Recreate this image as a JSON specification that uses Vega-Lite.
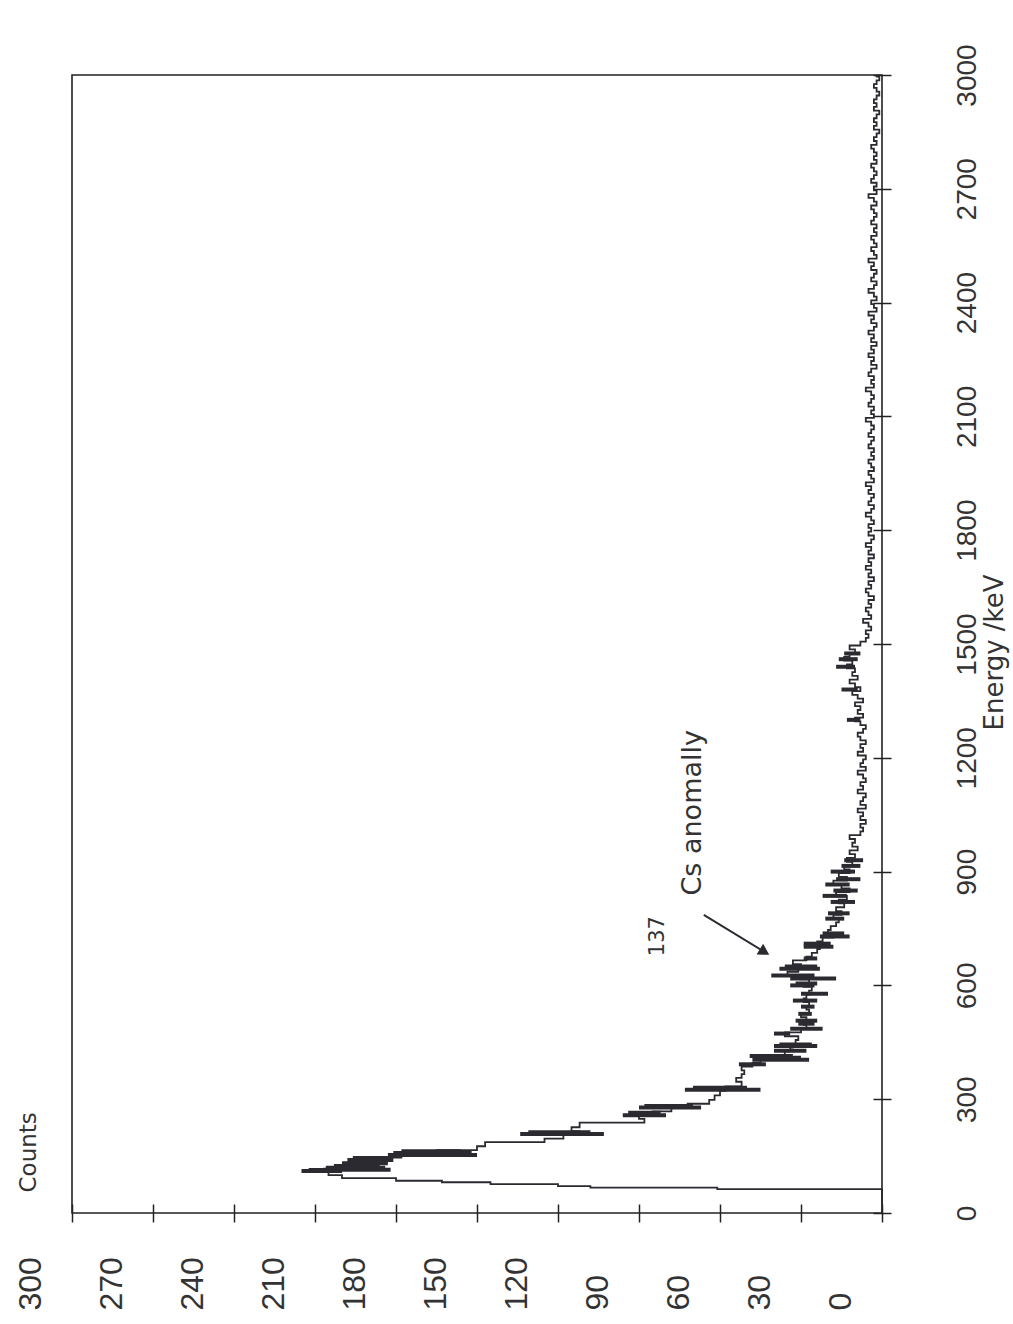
{
  "$schema": "https://vega.github.io/schema/vega-lite/v6.json",
  "width": 810,
  "height": 1138,
  "autosize": {"type": "none"},
  "padding": {"left": 72, "top": 75, "right": 131, "bottom": 111},
  "background": "white",
  "config": {
    "view": {"stroke": "#222222", "strokeWidth": 1.6},
    "font": "Liberation Sans"
  },
  "datasets": {
    "spectrum": [
      {"e":0,"c":0},{"e":63,"c":61},{"e":67,"c":108},{"e":71,"c":120},{"e":76,"c":145},{"e":81,"c":163},{"e":85,"c":180},{"e":92,"c":200},
      {"e":100,"c":205},{"e":108,"c":212},{"e":116,"c":198},{"e":126,"c":192},{"e":136,"c":188},{"e":146,"c":178},{"e":156,"c":165},{"e":166,"c":150},
      {"e":176,"c":147},{"e":187,"c":125},{"e":196,"c":118},{"e":206,"c":112},{"e":216,"c":115},{"e":226,"c":112},{"e":238,"c":88},{"e":248,"c":90},
      {"e":258,"c":85},{"e":268,"c":78},{"e":278,"c":72},{"e":288,"c":64},{"e":298,"c":62},{"e":310,"c":60},{"e":322,"c":58},{"e":334,"c":52},
      {"e":346,"c":54},{"e":356,"c":52},{"e":366,"c":51},{"e":376,"c":52},{"e":386,"c":48},{"e":396,"c":45},{"e":406,"c":40},{"e":416,"c":36},
      {"e":426,"c":34},{"e":436,"c":33},{"e":446,"c":32},{"e":456,"c":31},{"e":466,"c":36},{"e":476,"c":30},{"e":486,"c":28},{"e":496,"c":29},
      {"e":506,"c":28},{"e":516,"c":30},{"e":526,"c":27},{"e":536,"c":28},{"e":546,"c":27},{"e":556,"c":29},{"e":566,"c":28},{"e":576,"c":27},
      {"e":586,"c":26},{"e":596,"c":29},{"e":606,"c":27},{"e":616,"c":30},{"e":626,"c":35},{"e":636,"c":31},{"e":646,"c":30},{"e":656,"c":33},
      {"e":666,"c":28},{"e":676,"c":26},{"e":686,"c":24},{"e":696,"c":23},{"e":706,"c":24},{"e":716,"c":22},{"e":726,"c":18},{"e":736,"c":20},
      {"e":746,"c":19},{"e":756,"c":17},{"e":766,"c":16},{"e":776,"c":18},{"e":786,"c":15},{"e":796,"c":17},{"e":806,"c":14},{"e":816,"c":16},
      {"e":826,"c":13},{"e":836,"c":17},{"e":846,"c":12},{"e":856,"c":15},{"e":866,"c":18},{"e":876,"c":13},{"e":886,"c":16},{"e":896,"c":12},
      {"e":906,"c":14},{"e":916,"c":11},{"e":926,"c":13},{"e":936,"c":10},{"e":946,"c":12},{"e":956,"c":9},{"e":966,"c":11},{"e":976,"c":10},
      {"e":986,"c":12},{"e":996,"c":8},{"e":1006,"c":7},{"e":1016,"c":8},{"e":1026,"c":6},{"e":1036,"c":8},{"e":1046,"c":7},{"e":1056,"c":9},
      {"e":1066,"c":6},{"e":1076,"c":8},{"e":1086,"c":7},{"e":1096,"c":6},{"e":1106,"c":9},{"e":1116,"c":7},{"e":1126,"c":8},{"e":1136,"c":6},
      {"e":1146,"c":7},{"e":1156,"c":9},{"e":1166,"c":6},{"e":1176,"c":8},{"e":1186,"c":7},{"e":1196,"c":6},{"e":1206,"c":9},{"e":1216,"c":7},
      {"e":1226,"c":8},{"e":1236,"c":6},{"e":1246,"c":8},{"e":1256,"c":9},{"e":1266,"c":7},{"e":1276,"c":6},{"e":1286,"c":8},{"e":1296,"c":10},
      {"e":1306,"c":7},{"e":1316,"c":9},{"e":1326,"c":8},{"e":1336,"c":10},{"e":1346,"c":7},{"e":1356,"c":9},{"e":1366,"c":11},{"e":1376,"c":8},
      {"e":1386,"c":10},{"e":1396,"c":12},{"e":1406,"c":9},{"e":1416,"c":11},{"e":1426,"c":10},{"e":1436,"c":13},{"e":1446,"c":11},{"e":1456,"c":14},
      {"e":1466,"c":12},{"e":1476,"c":10},{"e":1486,"c":12},{"e":1496,"c":8},{"e":1506,"c":6},{"e":1516,"c":5},{"e":1526,"c":6},{"e":1536,"c":4},
      {"e":1546,"c":5},{"e":1556,"c":7},{"e":1566,"c":4},{"e":1576,"c":5},{"e":1586,"c":6},{"e":1596,"c":4},{"e":1606,"c":5},{"e":1616,"c":3},
      {"e":1626,"c":5},{"e":1636,"c":6},{"e":1646,"c":4},{"e":1656,"c":5},{"e":1666,"c":3},{"e":1676,"c":5},{"e":1686,"c":4},{"e":1696,"c":6},
      {"e":1706,"c":4},{"e":1716,"c":5},{"e":1726,"c":3},{"e":1736,"c":5},{"e":1746,"c":4},{"e":1756,"c":6},{"e":1766,"c":4},{"e":1776,"c":3},
      {"e":1786,"c":5},{"e":1796,"c":4},{"e":1806,"c":5},{"e":1816,"c":3},{"e":1826,"c":4},{"e":1836,"c":6},{"e":1846,"c":4},{"e":1856,"c":3},
      {"e":1866,"c":5},{"e":1876,"c":4},{"e":1886,"c":3},{"e":1896,"c":5},{"e":1906,"c":4},{"e":1916,"c":6},{"e":1926,"c":3},{"e":1936,"c":4},
      {"e":1946,"c":5},{"e":1956,"c":3},{"e":1966,"c":4},{"e":1976,"c":5},{"e":1986,"c":3},{"e":1996,"c":4},{"e":2006,"c":3},{"e":2016,"c":5},
      {"e":2026,"c":4},{"e":2036,"c":3},{"e":2046,"c":5},{"e":2056,"c":4},{"e":2066,"c":3},{"e":2076,"c":4},{"e":2086,"c":6},{"e":2096,"c":3},
      {"e":2106,"c":4},{"e":2116,"c":3},{"e":2126,"c":5},{"e":2136,"c":4},{"e":2146,"c":3},{"e":2156,"c":4},{"e":2166,"c":6},{"e":2176,"c":3},
      {"e":2186,"c":4},{"e":2196,"c":3},{"e":2206,"c":5},{"e":2216,"c":4},{"e":2226,"c":2},{"e":2236,"c":4},{"e":2246,"c":3},{"e":2256,"c":5},
      {"e":2266,"c":3},{"e":2276,"c":4},{"e":2286,"c":2},{"e":2296,"c":4},{"e":2306,"c":3},{"e":2316,"c":5},{"e":2326,"c":3},{"e":2336,"c":2},
      {"e":2346,"c":4},{"e":2356,"c":3},{"e":2366,"c":5},{"e":2376,"c":2},{"e":2386,"c":3},{"e":2396,"c":4},{"e":2406,"c":2},{"e":2416,"c":3},
      {"e":2426,"c":5},{"e":2436,"c":3},{"e":2446,"c":2},{"e":2456,"c":4},{"e":2466,"c":3},{"e":2476,"c":2},{"e":2486,"c":4},{"e":2496,"c":3},
      {"e":2506,"c":5},{"e":2516,"c":2},{"e":2526,"c":3},{"e":2536,"c":4},{"e":2546,"c":2},{"e":2556,"c":3},{"e":2566,"c":4},{"e":2576,"c":2},
      {"e":2586,"c":3},{"e":2596,"c":2},{"e":2606,"c":4},{"e":2616,"c":3},{"e":2626,"c":2},{"e":2636,"c":3},{"e":2646,"c":4},{"e":2656,"c":2},
      {"e":2666,"c":3},{"e":2676,"c":5},{"e":2686,"c":2},{"e":2696,"c":3},{"e":2706,"c":2},{"e":2716,"c":4},{"e":2726,"c":3},{"e":2736,"c":2},
      {"e":2746,"c":3},{"e":2756,"c":4},{"e":2766,"c":2},{"e":2776,"c":3},{"e":2786,"c":2},{"e":2796,"c":3},{"e":2806,"c":4},{"e":2816,"c":2},
      {"e":2826,"c":3},{"e":2836,"c":2},{"e":2846,"c":1},{"e":2856,"c":3},{"e":2866,"c":2},{"e":2876,"c":3},{"e":2886,"c":2},{"e":2896,"c":1},
      {"e":2906,"c":3},{"e":2916,"c":2},{"e":2926,"c":3},{"e":2936,"c":2},{"e":2946,"c":1},{"e":2956,"c":2},{"e":2966,"c":3},{"e":2976,"c":2},
      {"e":2986,"c":1},{"e":2996,"c":2},{"e":3000,"c":2}
    ],
    "spread": [
      {"e":111,"lo":200,"hi":215},{"e":114,"lo":182,"hi":207},{"e":119,"lo":184,"hi":206},{"e":124,"lo":186,"hi":203},
      {"e":131,"lo":183,"hi":200},{"e":140,"lo":181,"hi":198},{"e":145,"lo":183,"hi":196},{"e":153,"lo":150,"hi":183},
      {"e":158,"lo":152,"hi":181},{"e":163,"lo":156,"hi":178},{"e":208,"lo":103,"hi":134},{"e":213,"lo":108,"hi":131},
      {"e":258,"lo":80,"hi":96},{"e":264,"lo":82,"hi":94},{"e":278,"lo":67,"hi":90},{"e":282,"lo":70,"hi":88},
      {"e":325,"lo":45,"hi":73},{"e":330,"lo":50,"hi":70},{"e":392,"lo":43,"hi":53},{"e":404,"lo":27,"hi":48},
      {"e":409,"lo":30,"hi":46},{"e":414,"lo":33,"hi":49},{"e":428,"lo":28,"hi":40},{"e":440,"lo":24,"hi":40},
      {"e":444,"lo":26,"hi":38},{"e":473,"lo":34,"hi":40},{"e":486,"lo":22,"hi":34},{"e":499,"lo":25,"hi":31},
      {"e":507,"lo":24,"hi":32},{"e":525,"lo":26,"hi":31},{"e":544,"lo":25,"hi":30},{"e":560,"lo":24,"hi":33},
      {"e":578,"lo":20,"hi":30},{"e":600,"lo":25,"hi":34},{"e":605,"lo":24,"hi":32},{"e":618,"lo":17,"hi":34},
      {"e":626,"lo":25,"hi":41},{"e":644,"lo":23,"hi":38},{"e":650,"lo":24,"hi":36},{"e":671,"lo":24,"hi":29},
      {"e":702,"lo":18,"hi":29},{"e":710,"lo":19,"hi":29},{"e":729,"lo":12,"hi":23},{"e":737,"lo":14,"hi":22},
      {"e":776,"lo":14,"hi":21},{"e":790,"lo":12,"hi":20},{"e":820,"lo":10,"hi":19},{"e":836,"lo":13,"hi":22},
      {"e":850,"lo":9,"hi":18},{"e":866,"lo":12,"hi":21},{"e":880,"lo":8,"hi":17},{"e":900,"lo":10,"hi":19},
      {"e":915,"lo":8,"hi":15},{"e":930,"lo":7,"hi":14},{"e":1300,"lo":8,"hi":13},{"e":1380,"lo":9,"hi":15},
      {"e":1440,"lo":10,"hi":17},{"e":1460,"lo":9,"hi":16},{"e":1475,"lo":8,"hi":14}
    ],
    "label": [
      {"c": 70, "e": 1055, "t": "Cs anomally"}
    ],
    "isotope": [
      {"c": 83, "e": 730, "t": "137"}
    ],
    "pointer": [
      {"c1": 66, "e1": 786, "c2": 43.5, "e2": 688}
    ]
  },
  "layer": [
    {
      "data": {"name": "spectrum"},
      "mark": {"type": "line", "interpolate": "step-before", "color": "#2a2a30", "strokeWidth": 1.8},
      "encoding": {
        "x": {
          "field": "c", "type": "quantitative",
          "scale": {"domain": [0, 300], "reverse": true, "nice": false, "zero": false},
          "axis": {
            "orient": "bottom", "values": [0, 30, 60, 90, 120, 150, 180, 210, 240, 270, 300],
            "format": "d",
            "domain": false, "grid": false, "offset": -9,
            "tickSize": 18, "tickColor": "#222222", "tickWidth": 1.5,
            "labelAngle": -90, "labelAlign": "left", "labelBaseline": "middle", "labelPadding": 88,
            "labelOffset": -42,
            "labelFontSize": 32, "labelColor": "#333333", "labelFont": "Liberation Sans",
            "labelOverlap": false, "labelBound": false, "labelFlush": false,
            "title": "Counts", "titleAngle": -90, "titleAlign": "left", "titleBaseline": "middle",
            "titleX": -44, "titleY": -12, "titleFontSize": 23, "titleFontWeight": "normal",
            "titleColor": "#333333", "titleFont": "DejaVu Sans"
          }
        },
        "y": {
          "field": "e", "type": "quantitative",
          "scale": {"domain": [0, 3000], "nice": false, "zero": false},
          "axis": {
            "orient": "right", "values": [0, 300, 600, 900, 1200, 1500, 1800, 2100, 2400, 2700, 3000],
            "format": "d",
            "domain": false, "grid": false, "offset": -9,
            "tickSize": 18, "tickColor": "#222222", "tickWidth": 1.5,
            "labelAngle": -90, "labelAlign": "center", "labelBaseline": "top", "labelPadding": 62,
            "labelFontSize": 28, "labelColor": "#333333", "labelFont": "Liberation Sans",
            "labelOverlap": false, "labelBound": false, "labelFlush": false,
            "title": "Energy  /keV", "titleAngle": -90, "titleAlign": "center", "titleBaseline": "middle",
            "titleX": 121, "titleY": 577, "titleFontSize": 26, "titleFontWeight": "normal",
            "titleColor": "#333333", "titleFont": "DejaVu Sans"
          }
        },
        "order": {"field": "e", "type": "quantitative"}
      }
    },
    {
      "data": {"name": "spread"},
      "mark": {"type": "rule", "color": "#2a2a30", "strokeWidth": 4},
      "encoding": {
        "x": {"field": "lo", "type": "quantitative"},
        "x2": {"field": "hi"},
        "y": {"field": "e", "type": "quantitative"}
      }
    },
    {
      "data": {"name": "pointer"},
      "mark": {"type": "rule", "color": "#2a2a30", "strokeWidth": 2},
      "encoding": {
        "x": {"field": "c1", "type": "quantitative"},
        "x2": {"field": "c2"},
        "y": {"field": "e1", "type": "quantitative"},
        "y2": {"field": "e2"}
      }
    },
    {
      "data": {"name": "pointer"},
      "mark": {"type": "point", "shape": "triangle-right", "filled": true, "color": "#2a2a30", "size": 160, "angle": 31, "opacity": 1},
      "encoding": {
        "x": {"field": "c2", "type": "quantitative"},
        "y": {"field": "e2", "type": "quantitative"}
      }
    },
    {
      "data": {"name": "label"},
      "mark": {"type": "text", "angle": -90, "align": "center", "baseline": "middle", "font": "DejaVu Sans", "fontSize": 27, "color": "#333333"},
      "encoding": {
        "x": {"field": "c", "type": "quantitative"},
        "y": {"field": "e", "type": "quantitative"},
        "text": {"field": "t"}
      }
    },
    {
      "data": {"name": "isotope"},
      "mark": {"type": "text", "angle": -90, "align": "center", "baseline": "middle", "font": "DejaVu Sans", "fontSize": 21, "color": "#333333"},
      "encoding": {
        "x": {"field": "c", "type": "quantitative"},
        "y": {"field": "e", "type": "quantitative"},
        "text": {"field": "t"}
      }
    }
  ]
}
